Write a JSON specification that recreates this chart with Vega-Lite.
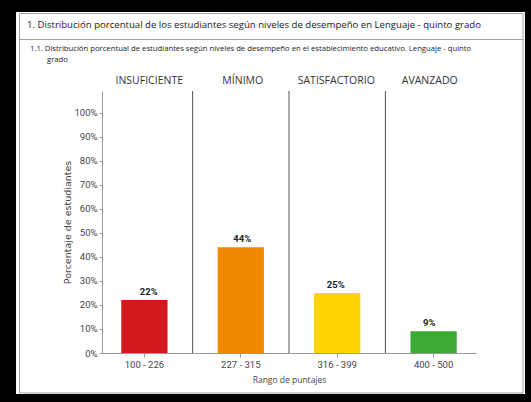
{
  "$schema": "https://vega.github.io/schema/vega-lite/v6.json",
  "autosize": {"type": "none"},
  "width": 374,
  "height": 262,
  "padding": {"left": 102, "top": 91, "right": 55, "bottom": 49},
  "background": "#000000",
  "config": {"view": {"stroke": null}},
  "datasets": {
    "niveles": [
      {"nivel": "INSUFICIENTE", "rango": "100 - 226", "pct": 0.22},
      {"nivel": "MÍNIMO", "rango": "227 - 315", "pct": 0.44},
      {"nivel": "SATISFACTORIO", "rango": "316 - 399", "pct": 0.25},
      {"nivel": "AVANZADO", "rango": "400 - 500", "pct": 0.09}
    ],
    "uno": [{}]
  },
  "resolve": {"scale": {"x": "independent"}, "axis": {"x": "independent", "y": "independent"}},
  "layer": [
    {
      "data": {"name": "uno"},
      "mark": {"type": "rect", "fill": "#ffffff"},
      "encoding": {
        "x": {"datum": -1.332, "type": "quantitative", "scale": {"domain": [-0.44, 3.44], "nice": false, "zero": false}, "axis": null},
        "x2": {"datum": 3.948},
        "y": {"datum": -0.1706, "type": "quantitative", "scale": {"domain": [0, 1.09], "nice": false}, "axis": null},
        "y2": {"datum": 1.4186}
      }
    },
    {
      "data": {"name": "uno"},
      "mark": {"type": "rect", "fill": null, "stroke": "#a0a0a0", "strokeWidth": 1},
      "encoding": {
        "x": {"datum": -1.296, "type": "quantitative", "scale": {"domain": [-0.44, 3.44], "nice": false, "zero": false}, "axis": null},
        "x2": {"datum": 3.928},
        "y": {"datum": -0.1664, "type": "quantitative", "scale": {"domain": [0, 1.09], "nice": false}, "axis": null},
        "y2": {"datum": 1.4124}
      }
    },
    {
      "data": {"name": "uno"},
      "mark": {"type": "rule", "stroke": "#a0a0a0", "strokeWidth": 1},
      "encoding": {
        "x": {"datum": -1.296, "type": "quantitative", "scale": {"domain": [-0.44, 3.44], "nice": false, "zero": false}, "axis": null},
        "x2": {"datum": 3.928},
        "y": {"datum": 1.3042, "type": "quantitative", "scale": {"domain": [0, 1.09], "nice": false}, "axis": null}
      }
    },
    {
      "data": {"name": "uno"},
      "mark": {"type": "text", "text": "1. Distribución porcentual de los estudiantes según niveles de desempeño en Lenguaje - quinto grado", "align": "left", "baseline": "middle", "font": "Open Sans", "fontSize": 9.6, "color": "#1a1a1a"},
      "encoding": {
        "x": {"datum": -1.218, "type": "quantitative", "scale": {"domain": [-0.44, 3.44], "nice": false, "zero": false}, "axis": null},
        "y": {"datum": 1.3645, "type": "quantitative", "scale": {"domain": [0, 1.09], "nice": false}, "axis": null}
      }
    },
    {
      "data": {"name": "uno"},
      "mark": {"type": "text", "text": "1.1. Distribución porcentual de estudiantes según niveles de desempeño en el establecimiento educativo. Lenguaje - quinto", "align": "left", "baseline": "middle", "font": "Open Sans", "fontSize": 7.7, "color": "#222222"},
      "encoding": {
        "x": {"datum": -1.187, "type": "quantitative", "scale": {"domain": [-0.44, 3.44], "nice": false, "zero": false}, "axis": null},
        "y": {"datum": 1.2647, "type": "quantitative", "scale": {"domain": [0, 1.09], "nice": false}, "axis": null}
      }
    },
    {
      "data": {"name": "uno"},
      "mark": {"type": "text", "text": "grado", "align": "left", "baseline": "middle", "font": "Open Sans", "fontSize": 7.7, "color": "#222222"},
      "encoding": {
        "x": {"datum": -1.011, "type": "quantitative", "scale": {"domain": [-0.44, 3.44], "nice": false, "zero": false}, "axis": null},
        "y": {"datum": 1.2188, "type": "quantitative", "scale": {"domain": [0, 1.09], "nice": false}, "axis": null}
      }
    },
    {
      "data": {"name": "niveles"},
      "transform": [{"filter": "datum.nivel !== 'AVANZADO'"}],
      "mark": {"type": "rule", "stroke": "#555555", "strokeWidth": 1},
      "encoding": {
        "x": {"field": "rango", "type": "nominal", "sort": null, "bandPosition": 1.5417, "scale": {"domain": ["100 - 226", "227 - 315", "316 - 399", "400 - 500"], "paddingInner": 0.52, "paddingOuter": 0.2}, "axis": null},
        "y": {"datum": 0, "type": "quantitative", "scale": {"domain": [0, 1.09], "nice": false}, "axis": null},
        "y2": {"datum": 1.09}
      }
    },
    {
      "data": {"name": "niveles"},
      "mark": {"type": "bar"},
      "encoding": {
        "x": {"field": "rango", "type": "nominal", "sort": null, "scale": {"paddingInner": 0.52, "paddingOuter": 0.2},
          "axis": {"zindex": 2, "title": "Rango de puntajes", "labelAngle": 0, "labelFont": "Roboto", "labelFontSize": 9.5, "labelColor": "#444444", "labelPadding": 2, "tickSize": 4, "tickColor": "#999999", "domainColor": "#999999", "titleFont": "Open Sans", "titleFontSize": 8.5, "titleFontWeight": "normal", "titleColor": "#444444", "titlePadding": 7}},
        "y": {"field": "pct", "type": "quantitative", "scale": {"domain": [0, 1.09], "nice": false},
          "axis": {"zindex": 2, "title": "Porcentaje de estudiantes", "values": [0, 0.1, 0.2, 0.3, 0.4, 0.5, 0.6, 0.7, 0.8, 0.9, 1], "format": ".0%", "grid": false, "labelFont": "Roboto", "labelFontSize": 9.5, "labelColor": "#444444", "tickSize": 3, "tickColor": "#999999", "domainColor": "#999999", "titleFont": "DejaVu Sans", "titleFontSize": 9.5, "titleFontWeight": "normal", "titleColor": "#444444", "titlePadding": 2}},
        "color": {"field": "nivel", "type": "nominal", "scale": {"domain": ["INSUFICIENTE", "MÍNIMO", "SATISFACTORIO", "AVANZADO"], "range": ["#d2191e", "#f08800", "#ffd300", "#3aaa35"]}, "legend": null}
      }
    },
    {
      "data": {"name": "niveles"},
      "mark": {"type": "text", "baseline": "alphabetic", "dy": -5, "font": "Roboto", "fontSize": 9.5, "fontWeight": "bold", "color": "#222222"},
      "encoding": {
        "x": {"field": "nivel", "type": "nominal", "sort": null, "scale": {"paddingInner": 0.52, "paddingOuter": 0.2},
          "axis": {"zindex": 2, "orient": "top", "title": null, "ticks": false, "domain": false, "labelAngle": 0, "labelFont": "Open Sans", "labelFontSize": 10.5, "labelColor": "#333333", "labelPadding": 6}},
        "y": {"field": "pct", "type": "quantitative", "scale": {"domain": [0, 1.09], "nice": false}, "axis": null},
        "text": {"field": "pct", "type": "quantitative", "format": ".0%"}
      }
    }
  ]
}
